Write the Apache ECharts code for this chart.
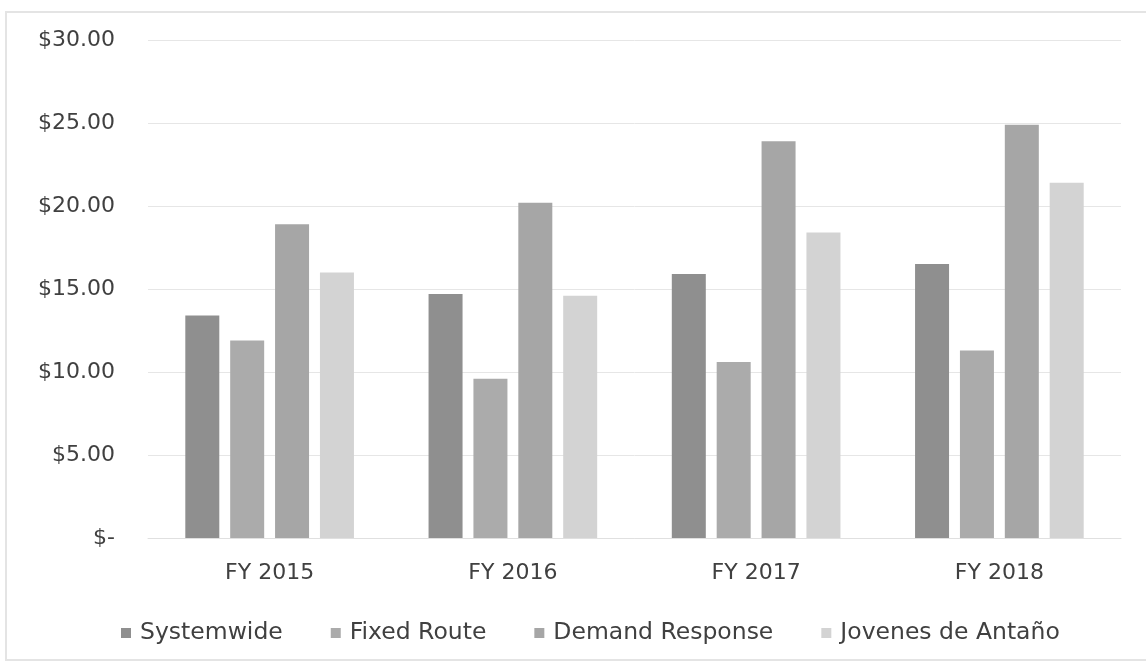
<!DOCTYPE html>
<html>
<head>
<meta charset="utf-8">
<script src="https://cdn.jsdelivr.net/npm/echarts@6/dist/echarts.min.js"></script>
<style>
  html, body { margin: 0; padding: 0; background: #fff; }
  #chart { width: 1146px; height: 666px; }
</style>
</head>
<body>
<div id="chart"></div>
<script>
// Fiscal years on the category axis
const years = ['FY 2015', 'FY 2016', 'FY 2017', 'FY 2018'];

// Cost per trip by service, in dollars
const systemwide = [13.40, 14.70, 15.90, 16.50];
const fixedRoute = [11.90, 9.60, 10.60, 11.30];
const demandResponse = [18.90, 20.20, 23.90, 24.90];
const jovenesDeAntano = [16.00, 14.60, 18.40, 21.40];

const seriesNames = ['Systemwide', 'Fixed Route', 'Demand Response', 'Jovenes de Antaño'];
const seriesColors = ['#8f8f8f', '#ababab', '#a6a6a6', '#d3d3d3'];
const seriesValues = [systemwide, fixedRoute, demandResponse, jovenesDeAntano];

const textColor = '#404040';
const fontFamily = '"DejaVu Sans", "Open Sans", sans-serif';

function dollars(v) {
  return v === 0 ? '$-' : '$' + v.toFixed(2);
}

const chart = echarts.init(document.getElementById('chart'));
chart.setOption({
  backgroundColor: '#ffffff',
  animation: false,
  graphic: [{
    type: 'rect',
    shape: { x: 6, y: 12, width: 1180, height: 648 },
    style: { fill: 'none', stroke: '#e4e4e4', lineWidth: 2 },
    silent: true,
    z: -1
  }],
  grid: { left: 148, right: 25, top: 40, bottom: 128 },
  legend: {
    bottom: 16,
    left: 116,
    itemWidth: 10,
    itemHeight: 10,
    itemGap: 48,
    icon: 'rect',
    textStyle: { color: textColor, fontSize: 23.5, fontFamily: fontFamily, padding: [0, 0, 0, 4] },
    data: seriesNames
  },
  xAxis: {
    type: 'category',
    data: years,
    axisLine: { show: true, lineStyle: { color: '#e0e0e0', width: 1 } },
    axisTick: { show: false },
    axisLabel: { color: textColor, fontSize: 22, fontFamily: fontFamily, margin: 24 }
  },
  yAxis: {
    type: 'value',
    min: 0,
    max: 30,
    interval: 5,
    axisLine: { show: false },
    axisTick: { show: false },
    splitLine: { lineStyle: { color: '#e6e6e6', width: 1 } },
    axisLabel: {
      color: textColor,
      fontSize: 22,
      fontFamily: fontFamily,
      margin: 33,
      formatter: dollars
    }
  },
  series: seriesNames.map((name, i) => ({
    name: name,
    type: 'bar',
    data: seriesValues[i],
    barWidth: 34,
    barGap: '32%',
    itemStyle: { color: seriesColors[i] }
  }))
});
</script>
</body>
</html>
